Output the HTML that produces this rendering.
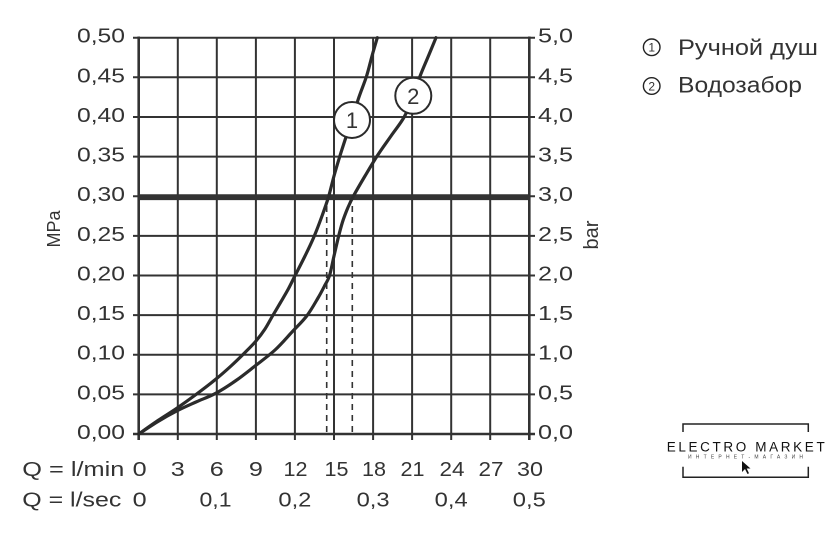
<!DOCTYPE html>
<html><head><meta charset="utf-8"><style>
html,body{margin:0;padding:0;background:#fff;}
svg{display:block;}
text{font-family:"Liberation Sans","DejaVu Sans",sans-serif;fill:#333;}
</style></head><body>
<svg id="s" width="840" height="535" viewBox="0 0 840 535" xmlns="http://www.w3.org/2000/svg">
<rect width="840" height="535" fill="#fff"/>
<g stroke="#333" stroke-width="2" fill="none">
<line x1="177.8" y1="37.7" x2="177.8" y2="440"/>
<line x1="216.8" y1="37.7" x2="216.8" y2="440"/>
<line x1="255.9" y1="37.7" x2="255.9" y2="440"/>
<line x1="294.9" y1="37.7" x2="294.9" y2="440"/>
<line x1="334.0" y1="37.7" x2="334.0" y2="440"/>
<line x1="373.1" y1="37.7" x2="373.1" y2="440"/>
<line x1="412.1" y1="37.7" x2="412.1" y2="440"/>
<line x1="451.2" y1="37.7" x2="451.2" y2="440"/>
<line x1="490.2" y1="37.7" x2="490.2" y2="440"/>
<line x1="133" y1="394.4" x2="535" y2="394.4"/>
<line x1="133" y1="354.7" x2="535" y2="354.7"/>
<line x1="133" y1="315.1" x2="535" y2="315.1"/>
<line x1="133" y1="275.5" x2="535" y2="275.5"/>
<line x1="133" y1="235.9" x2="535" y2="235.9"/>
<line x1="133" y1="196.2" x2="535" y2="196.2"/>
<line x1="133" y1="156.6" x2="535" y2="156.6"/>
<line x1="133" y1="117.0" x2="535" y2="117.0"/>
<line x1="133" y1="77.3" x2="535" y2="77.3"/>
<line x1="133" y1="37.7" x2="535" y2="37.7"/>
</g>
<g stroke="#333" stroke-width="2.6" fill="none">
<line x1="133" y1="434" x2="535" y2="434"/>
<line x1="138.7" y1="36.5" x2="138.7" y2="440"/>
<line x1="529.3" y1="36.5" x2="529.3" y2="440"/>
</g>
<line x1="137.5" y1="197.2" x2="530.5" y2="197.2" stroke="#333" stroke-width="5.8"/>
<g stroke="#333" stroke-width="1.6" stroke-dasharray="6,5" fill="none">
<line x1="326.7" y1="206" x2="326.7" y2="434"/>
<line x1="352.3" y1="206" x2="352.3" y2="434"/>
</g>
<g id="curves" stroke="#2b2b2b" stroke-width="3.2" fill="none" stroke-linejoin="round" stroke-linecap="round">
<polyline class="c" points="138.7,434 158,420.5 176.7,408.3 196,394.5 215.7,379.3 231,366 245,352.5 256,341 265,329 272.5,316 280.5,302.5 288.3,289 295,275.7 305,256 314,236.7 322,216 328.5,197 334,176 340,155.7 346,137 351.7,120 359,97 366.5,76.3 372,56 377.3,37.7"/>
<polyline class="c" points="138.7,434 158,421.5 176.7,411 196,402 215.7,393.3 236,380.5 255,366 275,350 292,332 306.7,316 318,298 325,285 329.5,275.7 334,256 338.5,236.7 342.5,222 346.5,211 350,203 354,195 365,176 377.3,155.7 391,136 404,117.3 413,97 420,76.3 428,57 436,37.7"/>
</g>
<g stroke="#2b2b2b" stroke-width="2" fill="#fff">
<circle cx="352" cy="120" r="18"/>
<circle cx="413.3" cy="95.8" r="18"/>
</g>
<text x="352" y="128" font-size="22" text-anchor="middle">1</text>
<text x="413.3" y="104" font-size="22" text-anchor="middle">2</text>
<g font-size="20" text-anchor="end">
<text x="125" y="439" textLength="48" lengthAdjust="spacingAndGlyphs">0,00</text>
<text x="125" y="399.4" textLength="48" lengthAdjust="spacingAndGlyphs">0,05</text>
<text x="125" y="359.7" textLength="48" lengthAdjust="spacingAndGlyphs">0,10</text>
<text x="125" y="320.1" textLength="48" lengthAdjust="spacingAndGlyphs">0,15</text>
<text x="125" y="280.5" textLength="48" lengthAdjust="spacingAndGlyphs">0,20</text>
<text x="125" y="240.9" textLength="48" lengthAdjust="spacingAndGlyphs">0,25</text>
<text x="125" y="201.2" textLength="48" lengthAdjust="spacingAndGlyphs">0,30</text>
<text x="125" y="161.6" textLength="48" lengthAdjust="spacingAndGlyphs">0,35</text>
<text x="125" y="122" textLength="48" lengthAdjust="spacingAndGlyphs">0,40</text>
<text x="125" y="82.3" textLength="48" lengthAdjust="spacingAndGlyphs">0,45</text>
<text x="125" y="42.7" textLength="48" lengthAdjust="spacingAndGlyphs">0,50</text>
</g>
<g font-size="20">
<text x="538" y="439" textLength="35" lengthAdjust="spacingAndGlyphs">0,0</text>
<text x="538" y="399.4" textLength="35" lengthAdjust="spacingAndGlyphs">0,5</text>
<text x="538" y="359.7" textLength="35" lengthAdjust="spacingAndGlyphs">1,0</text>
<text x="538" y="320.1" textLength="35" lengthAdjust="spacingAndGlyphs">1,5</text>
<text x="538" y="280.5" textLength="35" lengthAdjust="spacingAndGlyphs">2,0</text>
<text x="538" y="240.9" textLength="35" lengthAdjust="spacingAndGlyphs">2,5</text>
<text x="538" y="201.2" textLength="35" lengthAdjust="spacingAndGlyphs">3,0</text>
<text x="538" y="161.6" textLength="35" lengthAdjust="spacingAndGlyphs">3,5</text>
<text x="538" y="122" textLength="35" lengthAdjust="spacingAndGlyphs">4,0</text>
<text x="538" y="82.3" textLength="35" lengthAdjust="spacingAndGlyphs">4,5</text>
<text x="538" y="42.7" textLength="35" lengthAdjust="spacingAndGlyphs">5,0</text>
</g>
<text font-size="18" text-anchor="middle" transform="translate(60,229) rotate(-90)">MPa</text>
<text font-size="20" text-anchor="middle" transform="translate(598,235) rotate(-90)">bar</text>
<g font-size="20">
<text x="22.3" y="476" textLength="102" lengthAdjust="spacingAndGlyphs">Q = l/min</text>
<text x="22.3" y="506.5" textLength="99" lengthAdjust="spacingAndGlyphs">Q = l/sec</text>
</g>
<g font-size="20" text-anchor="middle">
<text x="139.7" y="476" textLength="14" lengthAdjust="spacingAndGlyphs">0</text>
<text x="177.8" y="476" textLength="14" lengthAdjust="spacingAndGlyphs">3</text>
<text x="216.8" y="476" textLength="14" lengthAdjust="spacingAndGlyphs">6</text>
<text x="255.9" y="476" textLength="14" lengthAdjust="spacingAndGlyphs">9</text>
<text x="295.5" y="476" textLength="24" lengthAdjust="spacingAndGlyphs">12</text>
<text x="336.5" y="476" textLength="24" lengthAdjust="spacingAndGlyphs">15</text>
<text x="374" y="476" textLength="24" lengthAdjust="spacingAndGlyphs">18</text>
<text x="412.5" y="476" textLength="24" lengthAdjust="spacingAndGlyphs">21</text>
<text x="452" y="476" textLength="25" lengthAdjust="spacingAndGlyphs">24</text>
<text x="491" y="476" textLength="25" lengthAdjust="spacingAndGlyphs">27</text>
<text x="530" y="476" textLength="26" lengthAdjust="spacingAndGlyphs">30</text>
<text x="139.7" y="506.5" textLength="14" lengthAdjust="spacingAndGlyphs">0</text>
<text x="215.5" y="506.5" textLength="32" lengthAdjust="spacingAndGlyphs">0,1</text>
<text x="294.9" y="506.5" textLength="33" lengthAdjust="spacingAndGlyphs">0,2</text>
<text x="373.1" y="506.5" textLength="33" lengthAdjust="spacingAndGlyphs">0,3</text>
<text x="451.2" y="506.5" textLength="33" lengthAdjust="spacingAndGlyphs">0,4</text>
<text x="529.3" y="506.5" textLength="33" lengthAdjust="spacingAndGlyphs">0,5</text>
</g>
<g stroke="#222" stroke-width="1.4" fill="none">
<circle cx="651.7" cy="47.3" r="8.3"/>
<circle cx="651.7" cy="86" r="8.3"/>
</g>
<g font-size="12" text-anchor="middle" style="fill:#222">
<text x="651.7" y="51.6">1</text>
<text x="651.7" y="90.3">2</text>
</g>
<g font-size="22" style="fill:#111">
<text x="678" y="55" textLength="140" lengthAdjust="spacingAndGlyphs">Ручной душ</text>
<text x="678" y="92.7" textLength="124" lengthAdjust="spacingAndGlyphs">Водозабор</text>
</g>
<g stroke="#222" stroke-width="1.5" fill="none">
<polyline points="683,432 683,424 808.3,424 808.3,432"/>
<polyline points="683,466.7 683,477.3 808.3,477.3 808.3,466.7"/>
</g>
<text x="666.7" y="451.7" font-size="13.5" textLength="158" style="fill:#111">ELECTRO MARKET</text>
<text x="688" y="458.5" font-size="5" textLength="115" style="fill:#444">ИНТЕРНЕТ-МАГАЗИН</text>
<polygon points="742,461 742,472 745,469 747.5,474 749,473.3 746.7,468.5 750.5,468.5" fill="#111"/>
</svg>
<script>
(function(){
  var NS="http://www.w3.org/2000/svg";
  var pls=document.querySelectorAll("polyline.c");
  for(var k=0;k<pls.length;k++){
    var pl=pls[k];
    var raw=pl.getAttribute("points").trim().split(/\s+/).map(function(s){var a=s.split(",");return [parseFloat(a[0]),parseFloat(a[1])];});
    var d="M"+raw[0][0]+","+raw[0][1];
    for(var i=0;i<raw.length-1;i++){
      var p0=raw[i-1]||raw[i],p1=raw[i],p2=raw[i+1],p3=raw[i+2]||raw[i+1];
      var c1x=p1[0]+(p2[0]-p0[0])/6,c1y=p1[1]+(p2[1]-p0[1])/6;
      var c2x=p2[0]-(p3[0]-p1[0])/6,c2y=p2[1]-(p3[1]-p1[1])/6;
      d+=" C"+c1x.toFixed(2)+","+c1y.toFixed(2)+" "+c2x.toFixed(2)+","+c2y.toFixed(2)+" "+p2[0]+","+p2[1];
    }
    var path=document.createElementNS(NS,"path");
    path.setAttribute("d",d);
    pl.parentNode.replaceChild(path,pl);
  }
})();
</script>
</body></html>
